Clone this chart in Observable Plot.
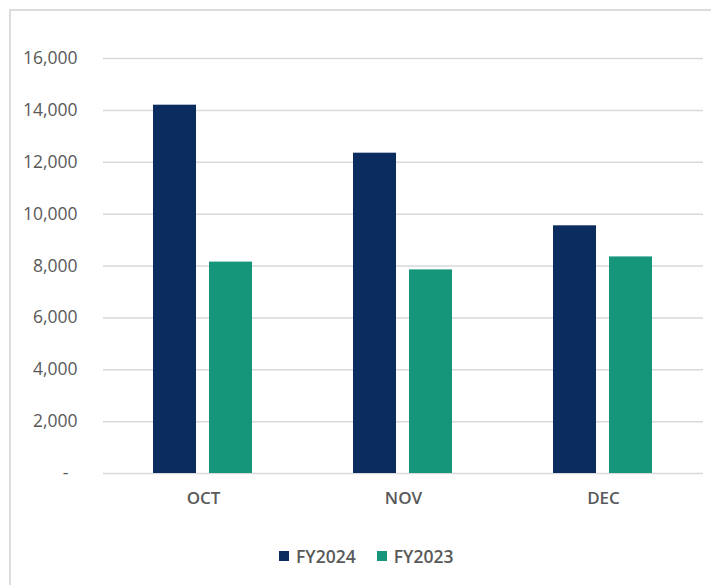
<!DOCTYPE html>
<html>
<head>
<meta charset="utf-8">
<script src="https://cdn.jsdelivr.net/npm/d3@7"></script>
<script src="https://cdn.jsdelivr.net/npm/@observablehq/plot@0.6"></script>
<style>
  html, body { margin: 0; padding: 0; background: #fff; }
  #wrap { position: relative; width: 711px; height: 585px; overflow: hidden; font-family: "Open Sans", sans-serif; }
  #frame { position: absolute; left: 9px; top: 9px; width: 800px; height: 700px;
           border-left: 2px solid #dcdcdc; border-top: 2px solid #dcdcdc; box-sizing: border-box; }
  #chart { position: absolute; left: 0; top: 0; }
  #legend { position: absolute; left: 279px; top: 544px; display: flex; align-items: center;
            font-size: 17.5px; font-weight: 600; color: #595959; }
  .item { display: flex; align-items: center; margin-right: 21px; }
  .swatch { width: 10px; height: 10px; margin-right: 7px; }
</style>
</head>
<body>
<div id="wrap">
  <div id="frame"></div>
  <div id="chart"></div>
  <div id="legend"></div>
</div>
<script>
// Monthly totals, first quarter of the fiscal year
const months = ["OCT", "NOV", "DEC"];
const series = ["FY2024", "FY2023"];
const fy2024 = [14200, 12350, 9550];
const fy2023 = [8150, 7850, 8350];
const yTicks = [0, 2000, 4000, 6000, 8000, 10000, 12000, 14000, 16000];
const colors = ["#0a2c5e", "#15967a"];

const rows = months.flatMap((m, i) => [
  {month: m, series: series[0], value: fy2024[i]},
  {month: m, series: series[1], value: fy2023[i]}
]);

const fmt = d3.format(",");
const chart = Plot.plot({
  width: 711,
  height: 585,
  marginTop: 58,
  marginBottom: 112,
  marginLeft: 102,
  marginRight: 8,
  style: {fontFamily: "Open Sans, sans-serif", background: "transparent"},
  fx: {domain: months, padding: 0},
  x: {domain: series, paddingInner: 0.228, paddingOuter: 0.872, axis: null},
  y: {domain: [0, 16000], axis: null},
  color: {domain: series, range: colors},
  marks: [
    Plot.gridY(yTicks, {stroke: "#d9d9d9", strokeOpacity: 1, strokeWidth: 1.5}),
    Plot.barY(rows, {fx: "month", x: "series", y: "value", fill: "series"}),
    Plot.axisY(yTicks, {
      anchor: "left", tickSize: 0, tickPadding: 26, fontSize: 17.5, fill: "#595959",
      label: null,
      tickFormat: d => d === 0 ? "-\u00a0\u00a0" : fmt(d)
    }),
    Plot.axisFx({
      anchor: "bottom", tickSize: 0, tickPadding: 18, fontSize: 17, fontWeight: 600,
      fill: "#595959", label: null
    })
  ]
});
document.getElementById("chart").appendChild(chart);

const legend = d3.select("#legend");
series.forEach((s, i) => {
  const item = legend.append("div").attr("class", "item");
  item.append("div").attr("class", "swatch").style("background", colors[i]);
  item.append("span").text(s);
});
</script>
</body>
</html>
